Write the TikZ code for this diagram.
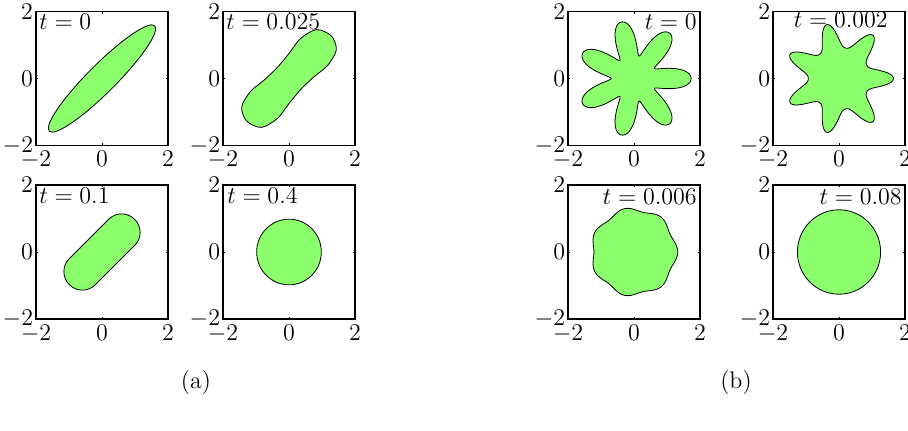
\documentclass[tikz,border=0pt]{standalone}
\usepackage{amsmath}
\usepackage{xcolor}
\usepackage{tikz}
\definecolor{Ink}{HTML}{000000}
\definecolor{Lime}{HTML}{8CFF6C}
\tikzset{
  boxframe/.style={draw=Ink,line width=0.7pt},
  blob/.style={draw=Ink,line width=0.4pt,fill=Lime},
  zerotick/.style={draw=Ink,line width=0.4pt},
  ylab/.style={anchor=east,inner sep=0pt,xshift=-1.3pt},
  xlab/.style={anchor=north,inner sep=0pt,yshift=-2.8pt},
  tlab/.style={inner sep=0pt},
  panel/.style 2 args={shift={(#1,#2)},x=16.5pt,y=16.75pt}
}
\begin{document}
\begin{tikzpicture}[x=0.5pt,y=-0.5pt,font=\fontsize{12}{14}\selectfont]
  \useasboundingbox (0,0) rectangle (908,431);
  % (a) ellipse flowing to a circle
  \begin{scope}[panel={102}{78.5}]
    \draw[blob,rotate=45] (0,0) ellipse (2.26 and 0.42);
  \end{scope}
  \begin{scope}[panel={289}{78.5}]
    \draw[blob,rotate=45] plot[smooth cycle] coordinates {
      (1.82,0) (1.64,0.45) (1.10,0.60) (0.55,0.53) (0,0.48) (-0.55,0.49)
      (-1.10,0.54) (-1.62,0.40) (-1.82,0) (-1.64,-0.45) (-1.10,-0.60)
      (-0.55,-0.53) (0,-0.48) (0.55,-0.49) (1.10,-0.54) (1.62,-0.40)};
  \end{scope}
  \begin{scope}[panel={102}{252}]
    \draw[blob,rotate=45] (-0.85,-0.55) -- (0.85,-0.55)
      arc[start angle=-90,end angle=90,radius=0.55] -- (-0.85,0.55)
      arc[start angle=90,end angle=270,radius=0.55] -- cycle;
  \end{scope}
  \begin{scope}[panel={289}{252}]
    \draw[blob] (0,0) circle (0.98);
  \end{scope}
  % (b) seven-armed star flowing to a circle
  \begin{scope}[panel={634}{78.5}]
    \draw[blob] plot[domain=0:359,samples=240] (\x:{1.26+0.52*cos(7*\x)-0.05*cos(14*\x)}) -- cycle;
  \end{scope}
  \begin{scope}[panel={839}{78.5}]
    \draw[blob] plot[domain=0:359,samples=240] (\x:{1.23+0.36*cos(7*\x)+0.06*cos(14*\x)}) -- cycle;
  \end{scope}
  \begin{scope}[panel={634}{252}]
    \draw[blob] plot[domain=0:359,samples=240] (\x:{1.27+0.055*cos(7*\x)}) -- cycle;
  \end{scope}
  \begin{scope}[panel={839}{252}]
    \draw[blob] (0,0) circle (1.26);
  \end{scope}
  % axes boxes, zero ticks and tick labels
  \foreach \cx/\cy/\nm in {102/78.5/a1,289/78.5/a2,102/252/a3,289/252/a4,
                           634/78.5/b1,839/78.5/b2,634/252/b3,839/252/b4} {
    \begin{scope}[panel={\cx}{\cy}]
      \draw[boxframe] (-2,-2) rectangle (2,2);
      \draw[zerotick] (0,-2) -- (0,-1.93) (0,2) -- (0,1.93)
                      (-2,0) -- (-1.93,0) (2,0) -- (1.93,0);
      \foreach \v/\k in {-2/lo,0/mid,2/hi} {
        \node[ylab] (\nm-y\k) at (-2,\v) {$\v$};
        \node[xlab] (\nm-x\k) at (\v,-2) {$\v$};
      }
    \end{scope}
  }
  % time stamps
  \node[tlab,anchor=base west] (ta1) at (39,30) {$t=0$};
  \node[tlab,anchor=base west] (ta2) at (226,30) {$t=0.025$};
  \node[tlab,anchor=base west] (ta3) at (39,204) {$t=0.1$};
  \node[tlab,anchor=base west] (ta4) at (227,204) {$t=0.4$};
  \node[tlab,anchor=base east] (tb1) at (697,30) {$t=0$};
  \node[tlab,anchor=base east] (tb2) at (888,28) {$t=0.002$};
  \node[tlab,anchor=base east] (tb3) at (697,205) {$t=0.006$};
  \node[tlab,anchor=base east] (tb4) at (902,205) {$t=0.08$};
  % captions
  \node (capa) at (196,383) {(a)};
  \node (capb) at (736,383) {(b)};
\end{tikzpicture}
\end{document}
